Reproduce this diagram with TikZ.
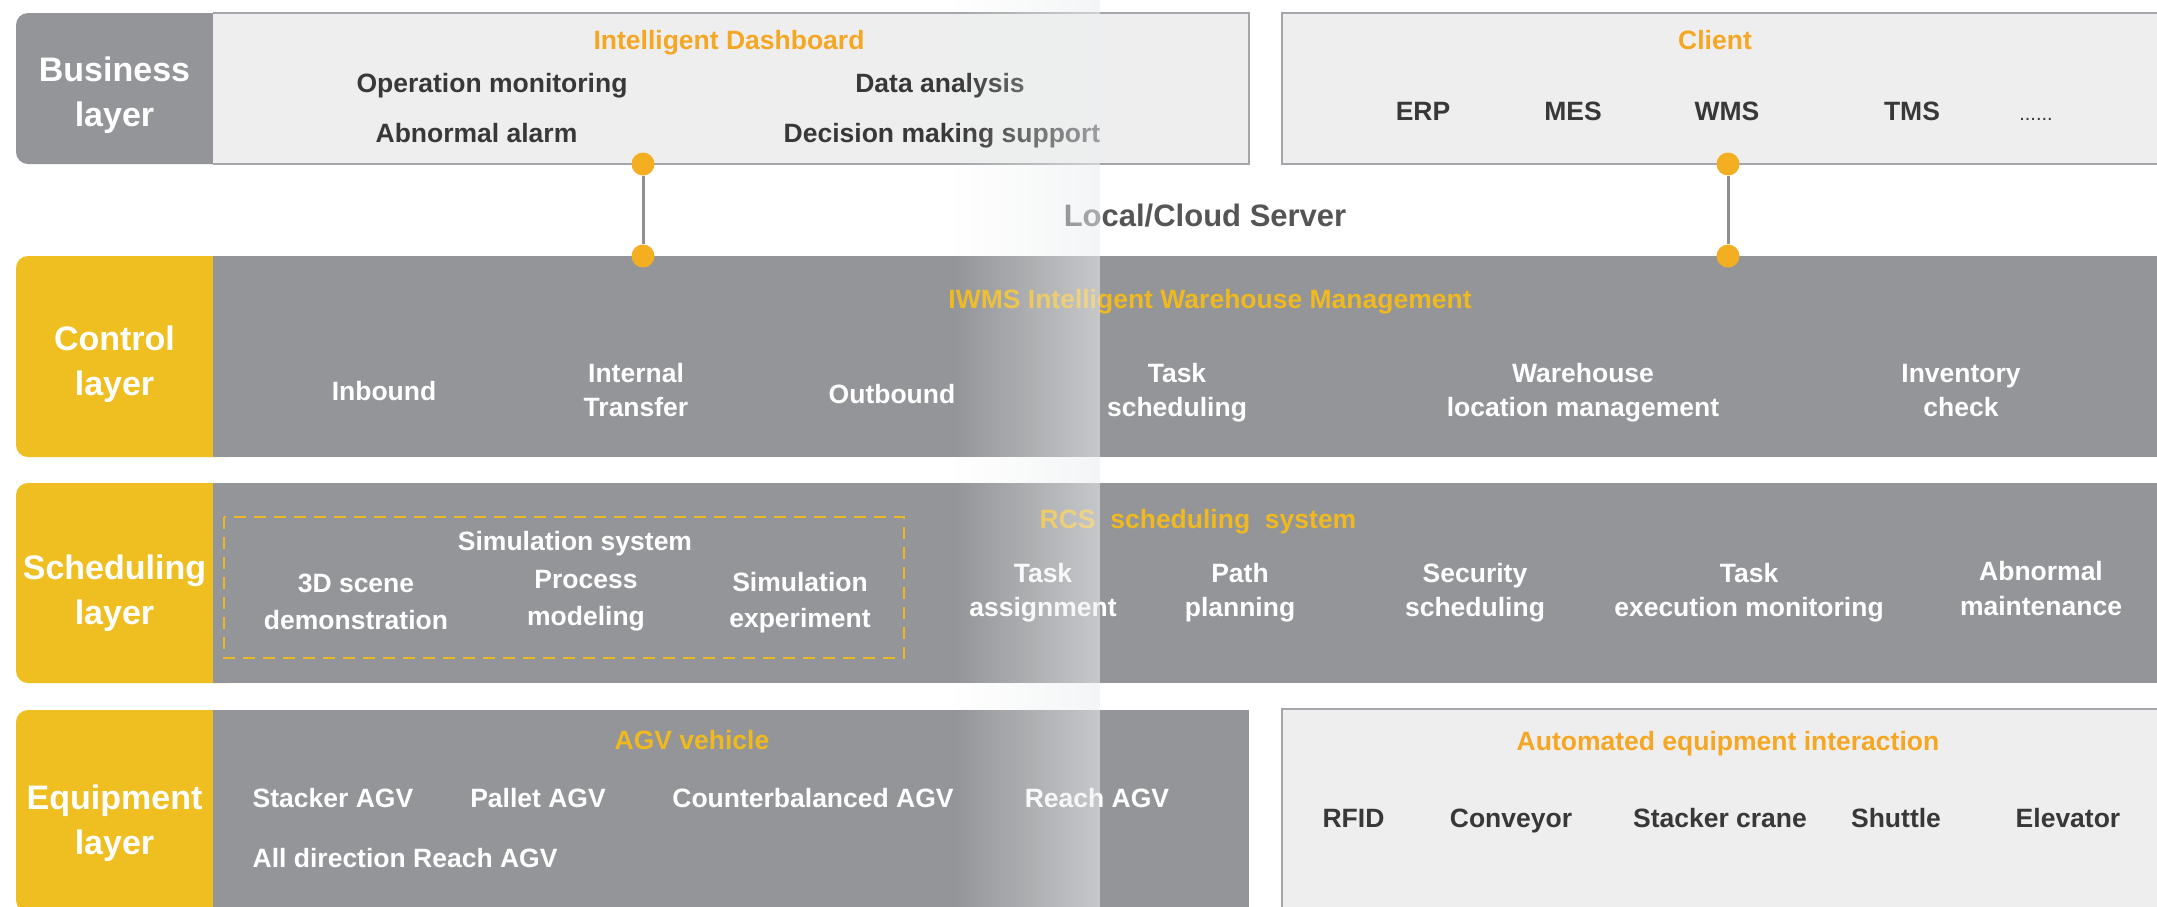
\documentclass[tikz,border=0pt]{standalone}
\usepackage{fontspec}
\setmainfont{Liberation Sans}
\usetikzlibrary{fadings}

\definecolor{rowgrey}{HTML}{939598}
\definecolor{layeryellow}{HTML}{EFBF22}
\definecolor{panel}{HTML}{EEEEEE}
\definecolor{panelline}{HTML}{A4A6A9}
\definecolor{ink}{HTML}{383838}
\definecolor{titleorange}{HTML}{F5A623}
\definecolor{titleyellow}{HTML}{EFB91F}
\definecolor{servergrey}{HTML}{555555}
\definecolor{linkgrey}{HTML}{8E9093}
\definecolor{dotorange}{HTML}{F4AE22}
\definecolor{simdash}{HTML}{E9B824}
\definecolor{haze}{HTML}{ECEEF0}

% multi-line nodes are placed by the baseline of their last line
\tikzset{
  layerlabel/.style={text=white, font=\bfseries\fontsize{34}{45}\selectfont,
    align=center, anchor=base, inner sep=0pt},
  item/.style={text=ink, font=\bfseries\fontsize{26.5}{34}\selectfont,
    align=center, anchor=base, inner sep=0pt},
  simitem/.style={item, text=white, font=\bfseries\fontsize{26.5}{37}\selectfont},
  whiteitem/.style={item, text=white},
  paneltitle/.style={item, text=titleorange},
  rowtitle/.style={item, text=titleyellow},
  dot/.style={circle, fill=dotorange, minimum size=23pt, inner sep=0pt},
  link/.style={draw=linkgrey, line width=3pt},
  panelborder/.style={draw=panelline, line width=2.5pt},
  simframe/.style={draw=simdash, line width=2pt, dash pattern=on 12pt off 8pt},
}

\begin{document}
\begin{tikzpicture}[x=1pt,y=-1pt]
\useasboundingbox (0,0) rectangle (2157,906);
\clip (0,0) rectangle (2157,906);
\fill[white] (0,0) rectangle (2157,906);

% ---------- Business layer ----------
\fill[rowgrey, rounded corners=12pt] (16,13) rectangle (240,164);
\fill[panel] (213,13) rectangle (1249,164);
\draw[panelborder] (213,13) -- (1249,13) -- (1249,164) -- (213,164);
\fill[panel] (1282,13) rectangle (2200,164);
\draw[panelborder] (2200,13) -- (1282,13) -- (1282,164) -- (2200,164);

\node[layerlabel] (business) at (114.5,126) {Business\\layer};

\node[paneltitle] (dashboard) at (729,49) {Intelligent Dashboard};
\node[item] (opmon) at (492,92) {Operation monitoring};
\node[item] (alarm) at (476.5,142) {Abnormal alarm};
\node[item] (analysis) at (940,92) {Data analysis};
\node[item] (decision) at (942,142) {Decision making support};

\node[paneltitle] (client) at (1715,49) {Client};
\node[item] (erp) at (1423,120) {ERP};
\node[item] (mes) at (1573,120) {MES};
\node[item] (wms) at (1727,120) {WMS};
\node[item] (tms) at (1912,120) {TMS};
\node[item, font=\fontsize{20}{24}\selectfont] (more) at (2036,120) {......};

% ---------- Server links ----------
\node[text=servergrey, font=\bfseries\fontsize{31}{36}\selectfont, anchor=base, inner sep=0pt]
  (server) at (1205,226) {Local/Cloud Server};

% ---------- Control layer ----------
\fill[layeryellow, rounded corners=12pt] (16,256) rectangle (240,457);
\fill[rowgrey] (213,256) rectangle (2200,457);

\node[layerlabel] (control) at (114.5,395) {Control\\layer};
\node[rowtitle] (iwms) at (1210,308) {IWMS Intelligent Warehouse Management};
\node[whiteitem] (inbound) at (384,400) {Inbound};
\node[whiteitem] (transfer) at (636,416) {Internal\\Transfer};
\node[whiteitem] (outbound) at (892,403) {Outbound};
\node[whiteitem] (taskdispatch) at (1177,416) {Task\\scheduling};
\node[whiteitem] (location) at (1583,416) {Warehouse\\location management};
\node[whiteitem] (inventory) at (1961,416) {Inventory\\check};

% connectors between the dashboard/client panels and the control layer
\node[dot] (dashdot) at (643,164) {};
\node[dot] (ctrldotL) at (643,256) {};
\node[dot] (clientdot) at (1728,164) {};
\node[dot] (ctrldotR) at (1728,256) {};
\draw[link] (dashdot) -- (ctrldotL);
\draw[link] (clientdot) -- (ctrldotR);

% ---------- Scheduling layer ----------
\fill[layeryellow, rounded corners=12pt] (16,483) rectangle (240,683);
\fill[rowgrey] (213,483) rectangle (2200,683);

\node[layerlabel] (scheduling) at (114.5,624) {Scheduling\\layer};

\draw[simframe] (224,517) rectangle (904,658);
\node[whiteitem] (simsys) at (575,550) {Simulation system};
\node[simitem] (scene) at (356,629) {3D scene\\demonstration};
\node[simitem] (process) at (586,625) {Process\\modeling};
\node[simitem, font=\bfseries\fontsize{26.5}{36}\selectfont] (experiment) at (800,627) {Simulation\\experiment};

\node[rowtitle] (rcs) at (1198,528) {RCS\ \ scheduling\ \ system};
\node[whiteitem] (assign) at (1043,616) {Task\\assignment};
\node[whiteitem] (path) at (1240,616) {Path\\planning};
\node[whiteitem] (security) at (1475,616) {Security\\scheduling};
\node[whiteitem] (execution) at (1749,616) {Task\\execution monitoring};
\node[whiteitem, font=\bfseries\fontsize{26.5}{35}\selectfont] (maintenance) at (2041,615) {Abnormal\\maintenance};

% ---------- Equipment layer ----------
\fill[layeryellow, rounded corners=12pt] (16,710) rectangle (240,912);
\fill[rowgrey] (213,710) rectangle (1249,912);
\fill[panel] (1282,709) rectangle (2200,912);
\draw[panelborder] (2200,709) -- (1282,709) -- (1282,912);

\node[layerlabel] (equipment) at (114.5,854) {Equipment\\layer};

\node[rowtitle] (agv) at (692,749) {AGV vehicle};
\node[whiteitem, anchor=base west] (stacker) at (252.5,807) {Stacker AGV};
\node[whiteitem] (pallet) at (538,807) {Pallet AGV};
\node[whiteitem] (counter) at (813,807) {Counterbalanced AGV};
\node[whiteitem] (reach) at (1097,807) {Reach AGV};
\node[whiteitem, anchor=base west] (alldir) at (252.5,867) {All direction Reach AGV};

\node[paneltitle] (automated) at (1728,750) {Automated equipment interaction};
\node[item] (rfid) at (1353.5,827) {RFID};
\node[item] (conveyor) at (1511,827) {Conveyor};
\node[item] (crane) at (1720,827) {Stacker crane};
\node[item] (shuttle) at (1896,827) {Shuttle};
\node[item] (elevator) at (2068,827) {Elevator};

% ---------- soft light band across the middle ----------
\fill[haze, fill opacity=0.57, path fading=west] (954,-5) rectangle (1100,911);
\end{tikzpicture}
\end{document}
